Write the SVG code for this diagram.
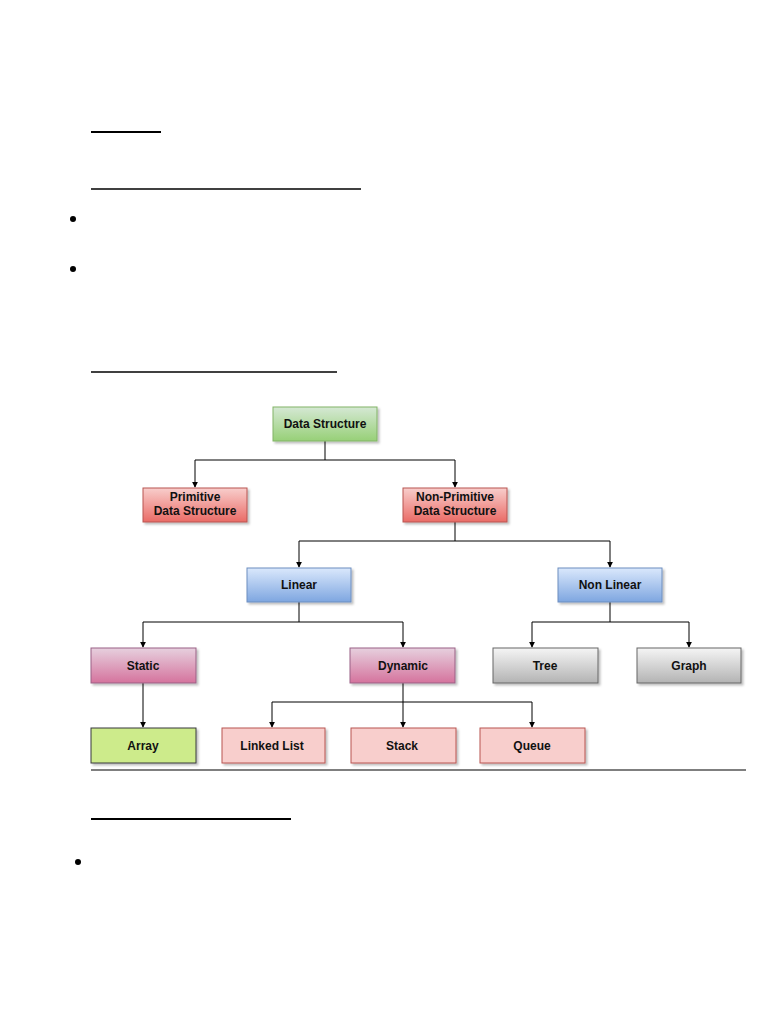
<svg xmlns="http://www.w3.org/2000/svg" width="768" height="1024" viewBox="0 0 768 1024">
<defs>
<linearGradient id="gGreen" x1="0" y1="0" x2="0" y2="1"><stop offset="0" stop-color="#d5e8d4"/><stop offset="1" stop-color="#97d077"/></linearGradient>
<linearGradient id="gRed" x1="0" y1="0" x2="0" y2="1"><stop offset="0" stop-color="#f8cecc"/><stop offset="1" stop-color="#ea6b66"/></linearGradient>
<linearGradient id="gBlue" x1="0" y1="0" x2="0" y2="1"><stop offset="0" stop-color="#dae8fc"/><stop offset="1" stop-color="#7ea6e0"/></linearGradient>
<linearGradient id="gPink" x1="0" y1="0" x2="0" y2="1"><stop offset="0" stop-color="#e6d0de"/><stop offset="1" stop-color="#d5739d"/></linearGradient>
<linearGradient id="gGray" x1="0" y1="0" x2="0" y2="1"><stop offset="0" stop-color="#f5f5f5"/><stop offset="1" stop-color="#b3b3b3"/></linearGradient>
<filter id="sh" x="-10%" y="-10%" width="130%" height="140%"><feDropShadow dx="2" dy="2" stdDeviation="1" flood-color="#000" flood-opacity="0.25"/></filter>
<marker id="arr" viewBox="0 0 8 8" refX="7" refY="4" markerWidth="6" markerHeight="6" orient="auto" markerUnits="userSpaceOnUse"><path d="M0,0 L8,4 L0,8 Z" fill="#000"/></marker>
</defs>
<style>
.box{filter:url(#sh);stroke-width:1}
.lbl{font-family:"Liberation Sans",Arial,sans-serif;font-weight:bold;font-size:12px;fill:#111;text-anchor:middle}
.conn{fill:none;stroke:#000;stroke-width:1}
.rule{stroke:#000}
</style>
<rect width="768" height="1024" fill="#fff"/>
<g id="page">
<line class="rule" x1="91" y1="132" x2="161" y2="132" stroke-width="2"/>
<line class="rule" x1="91" y1="189" x2="361" y2="189" stroke-width="1.5"/>
<circle cx="73" cy="219" r="3" fill="#000"/>
<circle cx="73" cy="269" r="3" fill="#000"/>
<line class="rule" x1="91" y1="372" x2="337" y2="372" stroke-width="1.5"/>
<line x1="91" y1="770" x2="746" y2="770" stroke="#555" stroke-width="1.5"/>
<line class="rule" x1="91" y1="819" x2="291" y2="819" stroke-width="2"/>
<circle cx="78" cy="862" r="3" fill="#000"/>
</g>
<g id="connectors">
<polyline class="conn" points="325,441 325,460 195,460 195,487" marker-end="url(#arr)"/>
<polyline class="conn" points="325,460 455,460 455,487" marker-end="url(#arr)"/>
<polyline class="conn" points="455,521 455,541 299,541 299,567" marker-end="url(#arr)"/>
<polyline class="conn" points="455,541 610,541 610,567" marker-end="url(#arr)"/>
<polyline class="conn" points="299,602 299,622 143,622 143,647" marker-end="url(#arr)"/>
<polyline class="conn" points="299,622 403,622 403,647" marker-end="url(#arr)"/>
<polyline class="conn" points="610,602 610,622 532,622 532,647" marker-end="url(#arr)"/>
<polyline class="conn" points="610,622 689,622 689,647" marker-end="url(#arr)"/>
<polyline class="conn" points="143,683 143,727" marker-end="url(#arr)"/>
<polyline class="conn" points="403,683 403,702 272,702 272,727" marker-end="url(#arr)"/>
<polyline class="conn" points="403,702 403,727" marker-end="url(#arr)"/>
<polyline class="conn" points="403,702 532,702 532,727" marker-end="url(#arr)"/>
</g>
<g id="n-ds"><rect class="box" x="273" y="407" width="104" height="34" fill="url(#gGreen)" stroke="#82b366"/><text class="lbl" x="325" y="428">Data Structure</text></g>
<g id="n-prim"><rect class="box" x="143" y="488" width="104" height="34" fill="url(#gRed)" stroke="#b85450"/><text class="lbl" x="195" y="501">Primitive</text><text class="lbl" x="195" y="515">Data Structure</text></g>
<g id="n-nonprim"><rect class="box" x="403" y="488" width="104" height="34" fill="url(#gRed)" stroke="#b85450"/><text class="lbl" x="455" y="501">Non-Primitive</text><text class="lbl" x="455" y="515">Data Structure</text></g>
<g id="n-linear"><rect class="box" x="247" y="568" width="104" height="34" fill="url(#gBlue)" stroke="#6c8ebf"/><text class="lbl" x="299" y="589">Linear</text></g>
<g id="n-nonlinear"><rect class="box" x="558" y="568" width="104" height="34" fill="url(#gBlue)" stroke="#6c8ebf"/><text class="lbl" x="610" y="589">Non Linear</text></g>
<g id="n-static"><rect class="box" x="91" y="648" width="105" height="35" fill="url(#gPink)" stroke="#996185"/><text class="lbl" x="143" y="670">Static</text></g>
<g id="n-dynamic"><rect class="box" x="350" y="648" width="105" height="35" fill="url(#gPink)" stroke="#996185"/><text class="lbl" x="403" y="670">Dynamic</text></g>
<g id="n-tree"><rect class="box" x="493" y="648" width="105" height="35" fill="url(#gGray)" stroke="#666666"/><text class="lbl" x="545" y="670">Tree</text></g>
<g id="n-graph"><rect class="box" x="637" y="648" width="104" height="35" fill="url(#gGray)" stroke="#666666"/><text class="lbl" x="689" y="670">Graph</text></g>
<g id="n-array"><rect class="box" x="91" y="728" width="105" height="35" fill="#cdeb8b" stroke="#36393d"/><text class="lbl" x="143" y="750">Array</text></g>
<g id="n-linked"><rect class="box" x="222" y="728" width="103" height="35" fill="#f8cecc" stroke="#b85450"/><text class="lbl" x="272" y="750">Linked List</text></g>
<g id="n-stack"><rect class="box" x="351" y="728" width="105" height="35" fill="#f8cecc" stroke="#b85450"/><text class="lbl" x="402" y="750">Stack</text></g>
<g id="n-queue"><rect class="box" x="480" y="728" width="105" height="35" fill="#f8cecc" stroke="#b85450"/><text class="lbl" x="532" y="750">Queue</text></g>
</svg>
